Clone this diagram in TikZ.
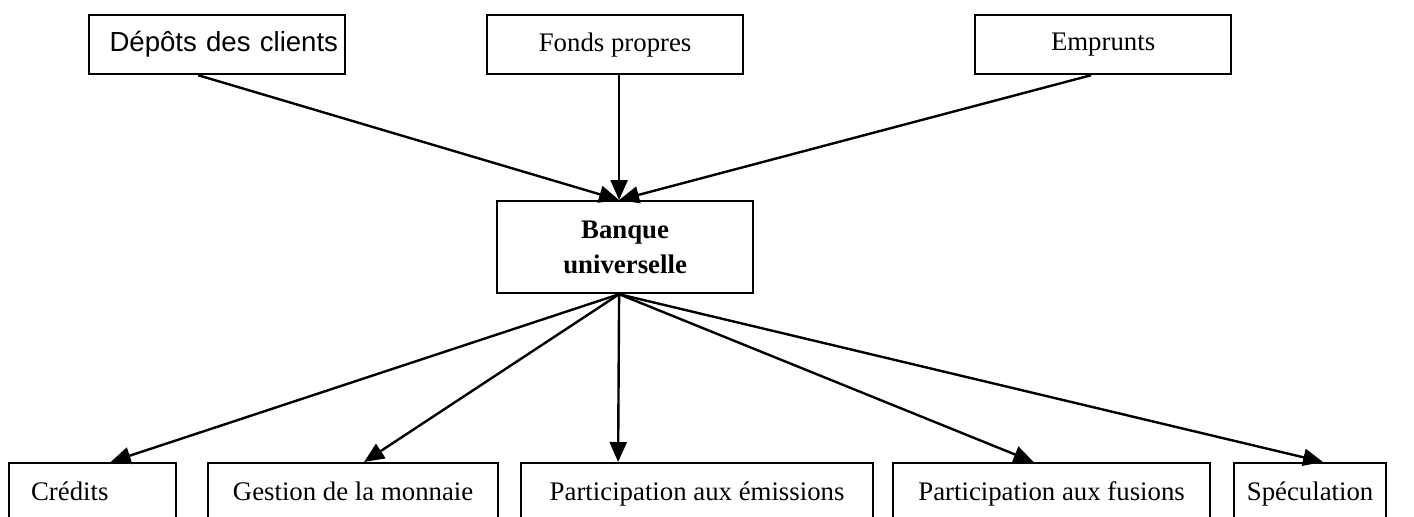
\documentclass[tikz,border=0pt]{standalone}
\usepackage{fontspec}
\setmainfont{Liberation Serif}
\newfontfamily\arialfont{Liberation Sans}
\usetikzlibrary{arrows.meta}

\begin{document}
\begin{tikzpicture} [x=0.5pt, y=-0.5pt,
		every node/.style={draw=black, line width=1.1pt, rectangle, anchor=north west,
			font=\fontsize{13.4}{17.5}\selectfont},
		source/.style={minimum width=128pt, minimum height=29.5pt, inner ysep=0pt},
		banque/.style={minimum width=128pt, minimum height=46pt, align=center,
			font=\fontsize{13.4}{17.5}\selectfont\bfseries},
		emploi/.style={inner ysep=0pt, text height=18.5pt, text depth=20pt},
		fleche/.style={line width=1.2pt, -{Triangle[length=10pt, width=8.5pt]}}
	]
	\path [use as bounding box, clip] (0,0) rectangle (1414,516);

	\node (depots) [source, text width=121pt, inner xsep=3.5pt, align=right,
		font=\fontsize{13.8}{16}\selectfont\arialfont] at (88,14) {Dépôts des clients};
	\node (fonds) [source] at (486,14) {Fonds propres};
	\node (emprunts) [source] at (974,14) {Emprunts};

	\node (bu) [banque] at (496,200) {Banque\\universelle};

	\node (credits) [emploi, text width=61.5pt, inner xsep=11pt, align=left] at (8,462) {Crédits};
	\node (gestion) [emploi, minimum width=145pt] at (207,462) {Gestion de la monnaie};
	\node (emissions) [emploi, minimum width=176pt] at (520,462) {Participation aux émissions};
	\node (fusions) [emploi, minimum width=158.5pt] at (892,462) {Participation aux fusions};
	\node (speculation) [emploi, minimum width=76pt] at (1233,462) {Spéculation};

	\draw [fleche] ([xshift=-9.5pt]depots.south) -- ([xshift=-3pt]bu.north);
	\draw [fleche] ([xshift=2pt]fonds.south) -- ([xshift=-3pt]bu.north);
	\draw [fleche] ([xshift=-6pt]emprunts.south) -- ([xshift=-3pt]bu.north);

	\draw [fleche] ([xshift=-3pt]bu.south) -- ([xshift=9pt]credits.north);
	\draw [fleche] ([xshift=-3pt]bu.south) -- ([xshift=5.5pt]gestion.north);
	\draw [fleche] ([xshift=-3pt]bu.south) -- ([xshift=-39.5pt]emissions.north);
	\draw [fleche] ([xshift=-3pt]bu.south) -- ([xshift=-9pt]fusions.north);
	\draw [fleche] ([xshift=-3pt]bu.south) -- ([xshift=6.5pt]speculation.north);

\end{tikzpicture}
\end{document}
